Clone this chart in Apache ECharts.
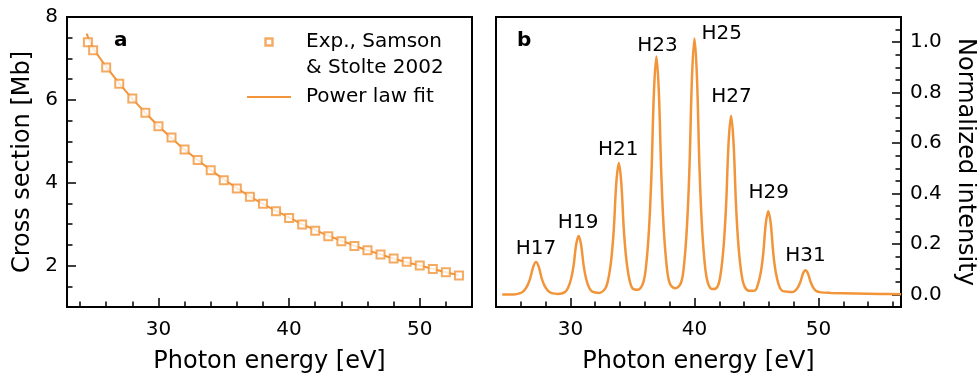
<!DOCTYPE html>
<html>
<head>
<meta charset="utf-8">
<script src="https://cdn.jsdelivr.net/npm/echarts@6/dist/echarts.min.js"></script>
<style>
  html, body { margin: 0; padding: 0; background: #fff; }
  #chart { width: 977px; height: 373px; }
</style>
</head>
<body>
<div id="chart"></div>
<script>
// ---------- Panel a: cross section ----------
const expX = [24.6, 25, 26, 27, 28, 29, 30, 31, 32, 33, 34, 35, 36, 37, 38, 39, 40, 41, 42, 43, 44, 45, 46, 47, 48, 49, 50, 51, 52, 53];
const expY = [7.39, 7.2, 6.78, 6.39, 6.03, 5.69, 5.36, 5.09, 4.8, 4.55, 4.30, 4.06, 3.86, 3.66, 3.49, 3.31, 3.15, 2.99, 2.84, 2.71, 2.59, 2.47, 2.37, 2.27, 2.17, 2.09, 2.0, 1.92, 1.84, 1.76];
const fitX = [24.5, 25, 26, 27, 28, 29, 30, 31, 32, 33, 34, 35, 36, 37, 38, 39, 40, 41, 42, 43, 44, 45, 46, 47, 48, 49, 50, 51, 52, 53];
const fitY = [7.6, 7.25, 6.8, 6.4, 6.03, 5.69, 5.37, 5.08, 4.8, 4.55, 4.31, 4.08, 3.87, 3.67, 3.49, 3.32, 3.16, 3.0, 2.86, 2.72, 2.6, 2.48, 2.37, 2.27, 2.17, 2.08, 2.0, 1.92, 1.84, 1.77];

// ---------- Panel b: HHG spectrum ----------
const specPoints = [
  [24.5, 0.0], [25.4, 0.0], [25.95, 0.005], [26.24, 0.014], [26.53, 0.035], [26.76, 0.064], [27.0, 0.109],
  [27.22, 0.128], [27.45, 0.109], [27.68, 0.064], [27.91, 0.035], [28.2, 0.014], [28.5, 0.005], [29.0, 0.002],
  [29.56, 0.009], [29.81, 0.026], [30.06, 0.063], [30.26, 0.116], [30.46, 0.197], [30.66, 0.232], [30.86, 0.197],
  [31.06, 0.116], [31.26, 0.063], [31.51, 0.026], [31.76, 0.011], [32.3, 0.006],
  [32.8, 0.023], [33.05, 0.06], [33.3, 0.142], [33.5, 0.261], [33.7, 0.443], [33.9, 0.521], [34.1, 0.443],
  [34.3, 0.261], [34.5, 0.142], [34.75, 0.06], [35.0, 0.024], [35.4, 0.018],
  [35.83, 0.041], [36.08, 0.104], [36.33, 0.255], [36.53, 0.472], [36.73, 0.80], [36.93, 0.943], [37.13, 0.80],
  [37.33, 0.472], [37.53, 0.255], [37.78, 0.104], [38.03, 0.041], [38.46, 0.024],
  [38.9, 0.044], [39.15, 0.112], [39.4, 0.274], [39.6, 0.508], [39.8, 0.863], [40.0, 1.015], [40.2, 0.863],
  [40.4, 0.508], [40.6, 0.274], [40.85, 0.112], [41.1, 0.043], [41.47, 0.021],
  [41.85, 0.03], [42.1, 0.078], [42.35, 0.191], [42.55, 0.354], [42.75, 0.602], [42.95, 0.708], [43.15, 0.602],
  [43.35, 0.354], [43.55, 0.191], [43.8, 0.078], [44.05, 0.03], [44.45, 0.014],
  [44.85, 0.015], [45.1, 0.037], [45.35, 0.089], [45.55, 0.165], [45.75, 0.281], [45.95, 0.33], [46.15, 0.281],
  [46.35, 0.165], [46.55, 0.089], [46.8, 0.037], [47.05, 0.015], [47.45, 0.011],
  [47.85, 0.009], [48.1, 0.014], [48.35, 0.029], [48.55, 0.051], [48.75, 0.083], [48.95, 0.096], [49.15, 0.083],
  [49.35, 0.051], [49.55, 0.029], [49.8, 0.014], [50.2, 0.008], [51.0, 0.006], [53.0, 0.004], [55.0, 0.002], [56.65, 0.001]
];
const harmLabels = ['H17', 'H19', 'H21', 'H23', 'H25', 'H27', 'H29', 'H31'];
const harmLabelX = [27.22, 30.62, 33.85, 37.02, 42.2, 42.98, 45.98, 48.95];
const harmLabelY = [0.179, 0.284, 0.572, 0.987, 1.035, 0.783, 0.404, 0.153];

// ---------- Ticks ----------
const aXMajor = [30, 40, 50];
const aXMinor = [24, 26, 28, 30, 32, 34, 36, 38, 40, 42, 44, 46, 48, 50, 52];
const aYMajor = [2, 4, 6, 8];
const aYMinor = [1.5, 2, 2.5, 3, 3.5, 4, 4.5, 5, 5.5, 6, 6.5, 7, 7.5];
const bXMajor = [30, 40, 50];
const bXMinor = [26, 28, 30, 32, 34, 36, 38, 40, 42, 44, 46, 48, 50, 52, 54, 56];
const bYMajor = [0, 0.2, 0.4, 0.6, 0.8, 1.0];
const bYMinor = [0, 0.05, 0.1, 0.15, 0.2, 0.25, 0.3, 0.35, 0.4, 0.45, 0.5, 0.55, 0.6, 0.65, 0.7, 0.75, 0.8, 0.85, 0.9, 0.95, 1.0, 1.05];

const ORANGE = '#F2953A';
const FONT = 'DejaVu Sans';
const EXP_NAME = 'Exp., Samson & Stolte 2002';
const FIT_NAME = 'Power law fit';

function minorAxis(gridIndex, min, max, ticks, position) {
  return {
    type: 'value', gridIndex, min, max, position,
    axisLine: { show: false, onZero: false },
    splitLine: { show: false },
    axisLabel: { show: false },
    axisTick: { show: true, inside: true, length: 5.5, customValues: ticks, lineStyle: { color: '#000', width: 1.5 } }
  };
}
function majorAxis(gridIndex, min, max, ticks, position, extra) {
  return Object.assign({
    type: 'value', gridIndex, min, max, position,
    axisLine: { show: false, onZero: false },
    splitLine: { show: false },
    axisTick: { show: true, inside: true, length: 9, customValues: ticks, lineStyle: { color: '#000', width: 1.5 } },
    axisLabel: { show: true, customValues: ticks, color: '#000', fontFamily: FONT, fontSize: 20, margin: 9 },
    nameTextStyle: { color: '#000', fontFamily: FONT, fontSize: 24 }
  }, extra);
}
const xLabel = { show: true, color: '#000', fontFamily: FONT, fontSize: 20, margin: 13 };

const chart = echarts.init(document.getElementById('chart'), null, { renderer: 'canvas' });

const gridBase = { top: 17, height: 290, width: 405, show: true, borderColor: '#000', borderWidth: 2,
  backgroundColor: 'transparent', z: 0, containLabel: false, outerBoundsMode: 'none' };

const option = {
  backgroundColor: '#fff',
  animation: false,
  textStyle: { fontFamily: FONT },
  grid: [
    Object.assign({ left: 67 }, gridBase),
    Object.assign({ left: 496 }, gridBase)
  ],
  xAxis: [
    minorAxis(0, 23, 54, aXMinor, 'bottom'),
    majorAxis(0, 23, 54, aXMajor, 'bottom', { name: 'Photon energy [eV]', nameLocation: 'middle', nameGap: 43,
      axisLabel: Object.assign({ customValues: aXMajor }, xLabel) }),
    minorAxis(1, 24, 56.65, bXMinor, 'bottom'),
    majorAxis(1, 24, 56.65, bXMajor, 'bottom', { name: 'Photon energy [eV]', nameLocation: 'middle', nameGap: 43,
      axisLabel: Object.assign({ customValues: bXMajor }, xLabel) })
  ],
  yAxis: [
    minorAxis(0, 1, 8, aYMinor, 'left'),
    majorAxis(0, 1, 8, aYMajor, 'left', { name: 'Cross section [Mb]', nameLocation: 'middle', nameGap: 32 }),
    minorAxis(1, -0.05, 1.1, bYMinor, 'right'),
    majorAxis(1, -0.05, 1.1, bYMajor, 'right', {
      name: 'Normalized intensity', nameLocation: 'middle', nameGap: 52, nameRotate: -90,
      axisLabel: { show: true, customValues: bYMajor, color: '#000', fontFamily: FONT, fontSize: 20, margin: 9,
        formatter: v => v.toFixed(1) }
    })
  ],
  legend: {
    data: [
      { name: EXP_NAME, icon: 'path://M0,0L10,0L10,10L0,10Z', itemStyle: { color: '#fff', borderColor: ORANGE, borderWidth: 2.4 } },
      { name: FIT_NAME, icon: 'path://M0,0L44,0L44,2L0,2Z', itemStyle: { color: ORANGE, borderWidth: 0 } }
    ],
    orient: 'vertical',
    left: 247, top: 3, padding: 0, itemGap: 3,
    itemWidth: 44, itemHeight: 7,
    symbolKeepAspect: true,
    selectedMode: false,
    textStyle: { color: '#000', fontFamily: FONT, fontSize: 20, lineHeight: 26, padding: [0, 0, 0, 10] },
    formatter: name => name === EXP_NAME ? '\nExp., Samson\n& Stolte 2002' : name
  },
  graphic: [
    { type: 'text', left: 114, top: 31, style: { text: 'a', font: 'bold 20px "DejaVu Sans"', fill: '#000' } },
    { type: 'text', left: 517, top: 31, style: { text: 'b', font: 'bold 20px "DejaVu Sans"', fill: '#000' } }
  ],
  series: [
    {
      name: FIT_NAME, type: 'line', xAxisIndex: 0, yAxisIndex: 0,
      data: fitX.map((x, i) => [x, fitY[i]]),
      symbol: 'none', smooth: 0.3, z: 2,
      lineStyle: { color: ORANGE, width: 2 }, itemStyle: { color: ORANGE }
    },
    {
      name: EXP_NAME, type: 'scatter', xAxisIndex: 0, yAxisIndex: 0,
      data: expX.map((x, i) => [x, expY[i]]),
      symbol: 'emptyRect', symbolSize: 8, z: 3,
      itemStyle: { color: ORANGE, borderColor: ORANGE, borderWidth: 2.4 }
    },
    {
      name: 'HHG spectrum', type: 'line', xAxisIndex: 2, yAxisIndex: 2,
      data: specPoints, symbol: 'none', smooth: 0.35, clip: true,
      lineStyle: { color: ORANGE, width: 2.5 }
    },
    {
      name: 'Harmonic labels', type: 'scatter', xAxisIndex: 2, yAxisIndex: 2,
      data: harmLabels.map((t, i) => ({ name: t, value: [harmLabelX[i], harmLabelY[i]] })),
      symbolSize: 0, silent: true, z: 5,
      itemStyle: { color: '#000', opacity: 1 },
      label: { show: true, position: 'inside', formatter: p => p.name, color: '#000', fontFamily: FONT, fontSize: 20,
        textBorderWidth: 0, textBorderColor: 'transparent', opacity: 1 }
    }
  ]
};
chart.setOption(option);
</script>
</body>
</html>
